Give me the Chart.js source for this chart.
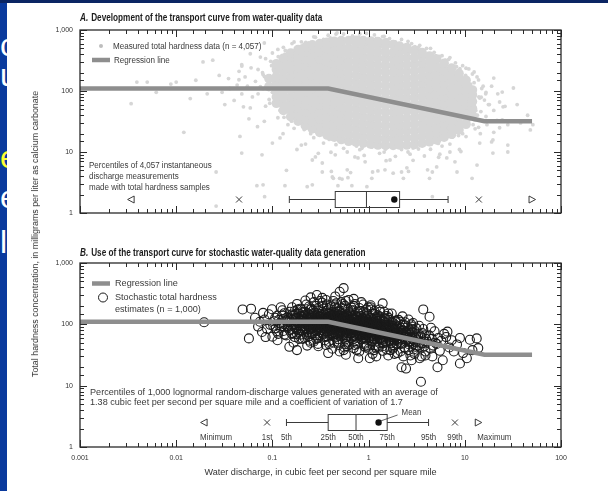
<!DOCTYPE html>
<html lang="en">
<head>
<meta charset="utf-8">
<title>Total hardness transport curve</title>
<script src="https://cdn.jsdelivr.net/npm/chart.js@4.4.1/dist/chart.umd.min.js"></script>
<style>
  html, body { margin: 0; padding: 0; background: #fff; }
  #page { position: relative; width: 608px; height: 491px; overflow: hidden; background: #fff; }
  #slideEdge { position: absolute; left: 0; top: 0; width: 7px; height: 491px; background: #0a3a9d; overflow: hidden; }
  #slideEdge span { position: absolute; left: 0; font: 32px/32px "Liberation Sans", Arial, sans-serif; color: #fff; }
  #slideTop { position: absolute; left: 0; top: 0; width: 608px; height: 3px; background: #0b2563; }
  canvas { position: absolute; left: 0; }
  #chartA { top: 0; }
  #chartB { top: 230px; }
  #yTitle { position: absolute; left: 35px; top: 234px; transform: translate(-50%, -50%) rotate(-90deg);
            white-space: nowrap; font: 8.9px "Liberation Sans", Arial, sans-serif; color: #333; }
</style>
</head>
<body>
<div id="page">
  <canvas id="chartA" width="608" height="230"></canvas>
  <canvas id="chartB" width="608" height="261"></canvas>
  <div id="yTitle">Total hardness concentration, in milligrams per liter as calcium carbonate</div>
  <div id="slideEdge">
    <span style="top:29px">c</span>
    <span style="top:59px">u</span>
    <span style="top:141px;color:#ffff33">e</span>
    <span style="top:181px">e</span>
    <span style="top:226px">l</span>
  </div>
  <div id="slideTop"></div>
</div>
<script>
// ---------------- axis values ----------------
const dischargeDecades = [0.001, 0.01, 0.1, 1, 10, 100];
const dischargeDecadeLabels = ['0.001', '0.01', '0.1', '1', '10', '100'];
const hardnessDecades = [1, 10, 100, 1000];
const hardnessDecadeLabels = ['1', '10', '100', '1,000'];

// ---------------- regression (transport) curve ----------------
const regressionDischarge = [0.001, 0.38, 16, 50];
const regressionHardness = [110, 110, 32, 32];

// ---------------- discharge percentiles ----------------
const percentileNames = ['Minimum', '1st', '5th', '25th', '50th', '75th', '95th', '99th', 'Maximum'];
const measuredPercentiles = [0.0034, 0.045, 0.15, 0.45, 0.95, 2.1, 6.7, 14, 50];
const measuredMean = 1.85;
const measuredBoxHardness = 1.7;      // level of the percentile row in panel A
const stochasticPercentiles = [0.0195, 0.088, 0.14, 0.38, 0.74, 1.56, 4.2, 7.9, 13.8];
const stochasticMean = 1.27;
const stochasticBoxHardness = 2.56;   // level of the percentile row in panel B

// ---------------- measured total hardness (panel A) ----------------
// crowded middle of the cloud: one discharge per column, hardness values in that column
const measuredColumnDischarge = [0.092, 0.11, 0.13, 0.155, 0.185, 0.22, 0.26, 0.31, 0.37, 0.44, 0.52, 0.62,
  0.74, 0.88, 1.05, 1.25, 1.5, 1.8, 2.1, 2.5, 3.0, 3.6, 4.3, 5.1, 6.1, 7.3, 8.7, 10.3, 12];
const measuredColumnHardness = [
  [118, 160],
  [63, 80, 104, 136, 172, 225, 280],
  [48, 60, 78, 100, 128, 165, 212, 270, 345],
  [38, 49, 63, 80, 104, 134, 172, 222, 285, 360, 420],
  [32, 41, 53, 68, 87, 112, 145, 186, 240, 310, 390, 480],
  [27, 35, 45, 58, 74, 95, 122, 158, 203, 262, 338, 430, 525],
  [24, 31, 40, 51, 66, 85, 109, 140, 180, 232, 300, 385, 490, 570],
  [21, 27, 35, 45, 58, 74, 95, 122, 158, 203, 262, 338, 430, 540, 600],
  [19, 24.5, 31, 40, 51, 66, 85, 109, 140, 180, 232, 300, 385, 490, 630],
  [17.5, 22.5, 29, 37, 48, 62, 79, 102, 131, 168, 216, 278, 358, 460, 590, 650],
  [16, 20.5, 26.5, 34, 44, 56, 72, 93, 120, 154, 198, 255, 328, 420, 540, 670],
  [15, 19.5, 25, 32, 41, 53, 68, 87, 112, 145, 186, 240, 310, 400, 510, 670],
  [14.5, 18.5, 24, 31, 40, 51, 66, 85, 109, 140, 180, 232, 300, 385, 490, 620, 680],
  [14, 18, 23, 29.5, 38, 49, 63, 81, 104, 134, 172, 222, 285, 365, 470, 600, 670],
  [13.5, 17.5, 22.5, 29, 37, 48, 62, 79, 102, 131, 168, 216, 278, 358, 460, 590, 660],
  [13, 16.5, 21.5, 27.5, 35.5, 46, 59, 76, 97, 125, 161, 207, 266, 342, 440, 565, 645],
  [12.8, 16.5, 21, 27, 35, 45, 58, 74, 95, 122, 158, 203, 262, 338, 430, 550, 615],
  [12.8, 16.5, 21, 27, 35, 45, 58, 74, 95, 122, 158, 203, 262, 338, 430, 575],
  [13, 16.8, 21.5, 27.5, 35.5, 46, 59, 76, 97, 125, 161, 207, 266, 342, 440, 545],
  [13, 17, 22, 28, 36, 47, 60, 77, 99, 127, 163, 210, 270, 350, 450, 515],
  [13.3, 17, 22, 28.5, 36.5, 47, 61, 78, 100, 129, 166, 214, 275, 355, 465],
  [14, 18, 23, 29.5, 38, 49, 63, 81, 104, 134, 172, 222, 285, 365, 425],
  [14.7, 19, 24.5, 31.5, 40.5, 52, 67, 86, 110, 142, 183, 235, 300, 375],
  [15.8, 20.5, 26, 33.5, 43, 55, 71, 91, 117, 150, 193, 248, 335],
  [17.5, 22.5, 29, 37, 48, 62, 79, 102, 131, 168, 216, 285],
  [19.5, 25, 32, 41, 53, 68, 87, 112, 145, 186, 238],
  [23, 29.5, 38, 49, 63, 81, 104, 134, 172, 195],
  [28.5, 36.5, 47, 60, 77, 99, 127, 150],
  [40, 52, 67, 86, 104]
];
// thinner samples round the edge of the crowded middle: [discharge, hardness]
const measuredFringePoints = [
  [17.6, 60], [16.6, 95], [13.9, 152], [10.3, 236], [7.0, 353], [4.4, 500], [2.57, 653], [1.45, 789],
  [0.81, 863], [0.458, 859], [0.269, 774], [0.168, 636], [0.114, 481], [0.085, 339], [0.071, 225], [0.0667, 144],
  [0.071, 90], [0.085, 56.5], [0.114, 36.4], [0.168, 24.4], [0.269, 17.2], [0.458, 13.2], [0.81, 10.9], [1.45, 9.96],
  [2.57, 10], [4.4, 11.1], [7.0, 13.5], [10.3, 17.9], [13.9, 25.4], [16.6, 38.2],
  [0.0824, 612], [0.0589, 408], [0.0481, 256], [0.0449, 153], [0.0481, 89.6], [0.0589, 52.8], [0.0824, 31.8], [0.129, 20],
  [0.221, 13.5], [0.406, 9.9], [0.776, 8.0], [1.52, 7.2], [2.9, 7.3], [5.35, 8.2], [9.1, 10.2], [14.3, 14],
  [20, 21], [24.5, 33.6], [26.2, 56], [24.5, 96], [20, 163],
  [14.3, 76.5], [10.2, 180], [4.97, 380], [1.86, 629], [0.632, 742], [0.237, 617], [0.115, 366], [0.0826, 173],
  [0.0925, 72.8], [0.158, 32], [0.378, 17], [1.08, 12], [3.1, 12.2], [7.4, 17.5], [12.7, 33.5],
  [0.075, 118], [0.079, 200], [0.1, 95], [0.098, 260], [0.12, 48], [0.135, 400], [0.2, 545], [0.145, 28],
  [0.25, 20], [0.34, 700], [0.55, 11.5], [1.2, 720], [2.2, 11], [3.4, 560], [5.8, 12.5], [6.3, 320],
  [8.2, 250], [9.5, 20], [11.5, 130], [13, 48], [15.5, 120], [12.5, 205],
  [14.8, 79], [12.5, 137], [8.9, 232], [5.5, 368], [3.03, 535], [1.56, 685], [0.79, 765], [0.4, 742],
  [0.222, 624], [0.136, 463], [0.096, 306], [0.08, 186], [0.08, 109], [0.094, 63], [0.132, 37], [0.214, 23.4],
  [0.39, 16.1], [0.75, 12.5], [1.5, 11.2], [2.9, 11.6], [5.3, 13.8], [8.6, 18.6], [12.2, 28], [14.7, 46]
];
// scattered samples well away from the crowded middle: [discharge, hardness]
const measuredOutlyingPoints = [
  [0.0034, 62], [0.0039, 140], [0.005, 140], [0.0062, 95], [0.0088, 130], [0.01, 140], [0.012, 21], [0.014, 75],
  [0.016, 150], [0.019, 300], [0.021, 90], [0.024, 320], [0.026, 4.7], [0.026, 1.3], [0.028, 180], [0.03, 95],
  [0.032, 60], [0.035, 160], [0.036, 110], [0.04, 70], [0.043, 125], [0.045, 210], [0.046, 18], [0.048, 9.6],
  [0.048, 270], [0.05, 55], [0.052, 170], [0.055, 120], [0.057, 35], [0.06, 240], [0.062, 80], [0.07, 26],
  [0.078, 9], [0.08, 2.9], [0.069, 2.8], [0.083, 1.85], [0.14, 5], [0.135, 2.8], [0.1, 14], [0.12, 17],
  [0.075, 360], [0.1, 420], [0.13, 520], [0.16, 600],
  [0.23, 2.7], [0.26, 2.9], [0.26, 7.4], [0.28, 8.3], [0.33, 6.6], [0.33, 4.7], [0.34, 14], [0.42, 3.9],
  [0.41, 4.8], [0.43, 3.7], [0.48, 2.8], [0.5, 3.7], [0.53, 3.6], [0.6, 5.1], [0.61, 3.8], [0.65, 4.6],
  [0.67, 2.8], [0.72, 8.3], [0.92, 6.9], [0.96, 2.7], [1.08, 3.7], [1.1, 4.7], [1.25, 4.9], [1.48, 5.1],
  [1.67, 7.4], [1.8, 4.5], [2.2, 4.7], [2.3, 3.7], [2.5, 5.5], [2.6, 4.8], [4.1, 5.1], [4.3, 3.7],
  [4.6, 4.7], [4.6, 1.85], [5.1, 5.7], [6.5, 8], [7.9, 6.9], [8.3, 4.7], [11.9, 3.7], [13.4, 6.1],
  [0.18, 11], [0.3, 9.5], [0.45, 9], [0.6, 10], [0.9, 8.8], [1.3, 9.5], [1.9, 8.5], [2.7, 9.2],
  [3.8, 8.6], [5.5, 9.2], [7, 10], [8.8, 11], [0.2, 13], [0.85, 11.5], [3.3, 11.2],
  [0.2, 640], [0.28, 760], [0.38, 820], [0.55, 860], [0.68, 800], [0.95, 880], [1.15, 830], [1.4, 780],
  [1.65, 720], [2.2, 700], [2.8, 600], [3.3, 520], [4, 500], [4.8, 430], [5.8, 380], [6.8, 330],
  [8, 290], [0.47, 900], [1.9, 640], [2.4, 560],
  [9.5, 260], [11, 230], [12, 190], [13.4, 170], [12.5, 95], [11.5, 120], [14, 80], [10.8, 65],
  [12, 52], [13.5, 40], [11, 33], [12.8, 24], [14.5, 20], [10.5, 45], [15, 110], [16, 71],
  [16.5, 90], [17, 28], [18, 60], [19, 120], [19, 14.6], [19.6, 9.6], [19.6, 15.8], [20, 48],
  [21.6, 33], [22, 90], [23, 66], [23, 25], [25, 55], [28, 28], [28, 13], [28, 10],
  [32, 112], [35, 60], [38, 30], [45, 40], [48, 23], [51, 28]
];

// ---------------- stochastic total hardness estimates (panel B): [discharge, hardness] ----------------
const stochasticPoints = [
  [0.0195, 108], [0.049, 175], [0.06, 180], [0.057, 59], [0.074, 110],
  [0.071, 92], [0.08, 154], [0.066, 128], [0.078, 75],
  [0.083, 120], [0.088, 84], [0.092, 146], [0.095, 98], [0.085, 62], [0.099, 176],
  [0.1, 63], [0.104, 112], [0.108, 86], [0.112, 138], [0.115, 70], [0.119, 104], [0.122, 190], [0.125, 93],
  [0.128, 121], [0.13, 78], [0.133, 152], [0.136, 99], [0.139, 66], [0.142, 130], [0.145, 88], [0.148, 109],
  [0.15, 43], [0.152, 160], [0.155, 95], [0.157, 72],
  [0.16, 118], [0.162, 84], [0.165, 140], [0.168, 101], [0.171, 62], [0.174, 127], [0.177, 90], [0.18, 38],
  [0.182, 174], [0.185, 106], [0.188, 75], [0.19, 148], [0.193, 97], [0.195, 115], [0.197, 68], [0.199, 136],
  [0.202, 104], [0.205, 79], [0.208, 158], [0.21, 92], [0.213, 122], [0.216, 60], [0.219, 112], [0.222, 86],
  [0.225, 210], [0.228, 99], [0.231, 131], [0.234, 73], [0.236, 117], [0.239, 95], [0.241, 145], [0.243, 54],
  [0.245, 108], [0.247, 83], [0.249, 126], [0.212, 140], [0.233, 101],
  [0.252, 96], [0.255, 128], [0.258, 69], [0.261, 113], [0.264, 88], [0.267, 170], [0.27, 104], [0.273, 77],
  [0.276, 139], [0.279, 93], [0.282, 119], [0.285, 58], [0.288, 107], [0.291, 84], [0.294, 152], [0.297, 99],
  [0.3, 125], [0.303, 71], [0.306, 115], [0.309, 89], [0.312, 240], [0.314, 102], [0.26, 145], [0.29, 132],
  [0.31, 65], [0.29, 300], [0.33, 270],
  [0.318, 100], [0.321, 133], [0.324, 80], [0.327, 117], [0.33, 92], [0.333, 160], [0.336, 106], [0.339, 70],
  [0.342, 126], [0.345, 97], [0.348, 143], [0.351, 85], [0.354, 112], [0.357, 62], [0.36, 120], [0.363, 94],
  [0.366, 185], [0.369, 103], [0.372, 76], [0.375, 130], [0.378, 89], [0.381, 109], [0.384, 52], [0.387, 122],
  [0.39, 96], [0.393, 148], [0.396, 82], [0.399, 114], [0.38, 34],
  [0.402, 104], [0.405, 136], [0.408, 78], [0.411, 118], [0.414, 91], [0.417, 158], [0.42, 99], [0.423, 67],
  [0.426, 125], [0.429, 87], [0.432, 112], [0.435, 142], [0.438, 74], [0.441, 106], [0.444, 95], [0.447, 190],
  [0.45, 83], [0.453, 120], [0.456, 61], [0.459, 102], [0.462, 131], [0.465, 88], [0.468, 110], [0.471, 70],
  [0.474, 146], [0.477, 93], [0.48, 115], [0.483, 57], [0.486, 100], [0.489, 128], [0.492, 81], [0.495, 108],
  [0.498, 168], [0.5, 340], [0.55, 390], [0.5, 36],
  [0.502, 97], [0.506, 124], [0.51, 76], [0.514, 109], [0.518, 88], [0.522, 150], [0.526, 95], [0.53, 64],
  [0.534, 117], [0.538, 84], [0.542, 104], [0.546, 135], [0.55, 71], [0.554, 99], [0.558, 180], [0.562, 90],
  [0.566, 113], [0.57, 56], [0.574, 97], [0.578, 126], [0.582, 82], [0.586, 106], [0.59, 67], [0.594, 140],
  [0.598, 89], [0.602, 110], [0.606, 52], [0.61, 96], [0.614, 120], [0.618, 77], [0.622, 101], [0.626, 158],
  [0.54, 215], [0.6, 44], [0.58, 240],
  [0.632, 92], [0.637, 118], [0.642, 72], [0.647, 104], [0.652, 84], [0.657, 143], [0.662, 90], [0.667, 60],
  [0.672, 111], [0.677, 80], [0.682, 99], [0.687, 128], [0.692, 67], [0.697, 94], [0.702, 170], [0.707, 86],
  [0.712, 107], [0.717, 53], [0.722, 92], [0.727, 120], [0.732, 77], [0.737, 100], [0.742, 63], [0.747, 133],
  [0.752, 84], [0.757, 104], [0.762, 48], [0.767, 90], [0.772, 114], [0.777, 73], [0.782, 95], [0.787, 150],
  [0.78, 28], [0.7, 200], [0.75, 38],
  [0.802, 88], [0.808, 112], [0.814, 68], [0.82, 99], [0.826, 79], [0.832, 136], [0.838, 85], [0.844, 57],
  [0.85, 104], [0.856, 75], [0.862, 93], [0.868, 121], [0.874, 63], [0.88, 88], [0.886, 160], [0.892, 81],
  [0.898, 100], [0.904, 50], [0.91, 86], [0.916, 112], [0.922, 72], [0.928, 93], [0.934, 59], [0.94, 124],
  [0.946, 78], [0.952, 97], [0.958, 45], [0.964, 84], [0.97, 106], [0.976, 68], [0.982, 88], [0.988, 140],
  [0.99, 190], [0.84, 230], [0.93, 42],
  [1.01, 82], [1.02, 104], [1.03, 63], [1.04, 92], [1.05, 73], [1.06, 126], [1.07, 79], [1.08, 53],
  [1.09, 96], [1.1, 70], [1.11, 86], [1.12, 112], [1.13, 58], [1.14, 81], [1.15, 148], [1.16, 75],
  [1.17, 93], [1.18, 46], [1.19, 79], [1.2, 103], [1.21, 66], [1.22, 86], [1.23, 54], [1.24, 114],
  [1.25, 72], [1.03, 28], [1.08, 175], [1.14, 38], [1.2, 130], [1.05, 205], [1.18, 89], [1.11, 60], [1.23, 95],
  [1.27, 77], [1.29, 97], [1.31, 58], [1.33, 86], [1.35, 68], [1.37, 117], [1.39, 73], [1.41, 49],
  [1.43, 89], [1.45, 64], [1.47, 80], [1.49, 104], [1.51, 53], [1.53, 75], [1.55, 137], [1.57, 70],
  [1.28, 42], [1.32, 160], [1.36, 92], [1.4, 220], [1.42, 61], [1.46, 110], [1.5, 84], [1.54, 39],
  [1.3, 70], [1.38, 55], [1.44, 125], [1.52, 95], [1.56, 60], [1.34, 80], [1.48, 72],
  [1.6, 72], [1.63, 90], [1.66, 54], [1.69, 80], [1.72, 63], [1.75, 108], [1.78, 67], [1.81, 45],
  [1.84, 82], [1.87, 59], [1.9, 74], [1.93, 96], [1.96, 49], [1.99, 69], [1.62, 127], [1.68, 38],
  [1.74, 150], [1.8, 88], [1.86, 33], [1.92, 115], [1.98, 57], [1.65, 66], [1.77, 94], [1.83, 72],
  [1.95, 62], [1.71, 49], [1.89, 85],
  [2.02, 66], [2.07, 83], [2.12, 50], [2.17, 74], [2.22, 58], [2.27, 99], [2.32, 62], [2.37, 42],
  [2.42, 76], [2.47, 55], [2.05, 118], [2.15, 36], [2.2, 20], [2.25, 135], [2.3, 70], [2.35, 88],
  [2.45, 19], [2.1, 60], [2.4, 108], [2.18, 48], [2.28, 79], [2.44, 64],
  [2.52, 61], [2.58, 77], [2.64, 47], [2.7, 69], [2.76, 53], [2.82, 92], [2.88, 57], [2.94, 39],
  [3.0, 71], [3.06, 51], [3.12, 64], [2.6, 120], [2.72, 31], [2.8, 84], [2.9, 105], [3.1, 43],
  [2.66, 58], [2.98, 80],
  [3.2, 56], [3.3, 71], [3.4, 43], [3.5, 64], [3.6, 49], [3.7, 84], [3.8, 53], [3.9, 36],
  [3.35, 95], [3.55, 30], [3.7, 175], [3.5, 11.6], [3.25, 45], [3.85, 66],
  [4.1, 52], [4.25, 66], [4.4, 40], [4.55, 58], [4.7, 45], [4.85, 77], [4.3, 133], [4.6, 30],
  [4.95, 50], [4.45, 88],
  [5.1, 48], [5.3, 60], [5.5, 37], [5.7, 54], [5.9, 26], [5.2, 20], [6.1, 70],
  [6.6, 76], [6.9, 42], [7.3, 55], [7.7, 36], [6.4, 62],
  [8.9, 60], [8.9, 23], [9.6, 34], [8.3, 47],
  [10.5, 28], [11.3, 56], [13.3, 59], [13.8, 41], [12, 38],
  // second pass through the crowded middle of the cloud
  [0.102, 95], [0.107, 128], [0.111, 77], [0.117, 118], [0.121, 88], [0.126, 140], [0.131, 101], [0.134, 68],
  [0.138, 115], [0.143, 92], [0.147, 125], [0.151, 80], [0.156, 108], [0.159, 145], [0.113, 55], [0.127, 170],
  [0.161, 100], [0.164, 72], [0.167, 125], [0.17, 90], [0.173, 112], [0.176, 148], [0.179, 83], [0.183, 104],
  [0.186, 130], [0.189, 58], [0.192, 95], [0.196, 120], [0.198, 86], [0.17, 165], [0.18, 70], [0.19, 108],
  [0.166, 50], [0.194, 180],
  [0.201, 118], [0.204, 92], [0.207, 132], [0.211, 76], [0.214, 103], [0.217, 140], [0.22, 88], [0.223, 115],
  [0.226, 68], [0.229, 125], [0.232, 94], [0.235, 150], [0.238, 82], [0.24, 110], [0.242, 64], [0.244, 130],
  [0.246, 98], [0.248, 175], [0.206, 58], [0.218, 160], [0.23, 45], [0.237, 123], [0.244, 88],
  [0.251, 110], [0.254, 84], [0.257, 136], [0.26, 97], [0.263, 72], [0.266, 120], [0.269, 90], [0.272, 155],
  [0.275, 105], [0.278, 66], [0.281, 128], [0.284, 95], [0.287, 116], [0.29, 78], [0.293, 140], [0.296, 102],
  [0.299, 60], [0.302, 118], [0.305, 88], [0.308, 135], [0.311, 97], [0.313, 75], [0.256, 180], [0.268, 52],
  [0.283, 200], [0.298, 48], [0.304, 165],
  [0.319, 112], [0.322, 86], [0.325, 140], [0.328, 98], [0.331, 70], [0.334, 124], [0.337, 92], [0.34, 150],
  [0.343, 106], [0.346, 76], [0.349, 130], [0.352, 96], [0.355, 118], [0.358, 82], [0.361, 140], [0.364, 104],
  [0.367, 64], [0.37, 122], [0.373, 95], [0.376, 170], [0.379, 100], [0.382, 78], [0.385, 134], [0.388, 90],
  [0.391, 112], [0.394, 68], [0.397, 126], [0.335, 200], [0.35, 55], [0.368, 210], [0.389, 48],
  [0.403, 95], [0.406, 120], [0.409, 84], [0.412, 140], [0.415, 102], [0.418, 72], [0.421, 128], [0.424, 93],
  [0.427, 110], [0.43, 64], [0.433, 132], [0.436, 98], [0.439, 80], [0.442, 150], [0.445, 105], [0.448, 88],
  [0.451, 118], [0.454, 70], [0.457, 138], [0.46, 96], [0.463, 112], [0.466, 76], [0.469, 125], [0.472, 92],
  [0.475, 160], [0.478, 85], [0.481, 104], [0.484, 66], [0.487, 120], [0.49, 96], [0.493, 140], [0.496, 74],
  [0.41, 195], [0.44, 50], [0.46, 220], [0.49, 46],
  [0.504, 90], [0.508, 116], [0.512, 70], [0.516, 132], [0.52, 96], [0.524, 78], [0.528, 120], [0.532, 88],
  [0.536, 145], [0.54, 100], [0.544, 66], [0.548, 118], [0.552, 92], [0.556, 130], [0.56, 80], [0.564, 104],
  [0.568, 140], [0.572, 74], [0.576, 110], [0.58, 90], [0.584, 125], [0.588, 62], [0.592, 100], [0.596, 116],
  [0.6, 84], [0.604, 135], [0.608, 95], [0.612, 72], [0.616, 108], [0.62, 88], [0.624, 122], [0.628, 98],
  [0.53, 185], [0.57, 48], [0.61, 175], [0.56, 42],
  [0.635, 100], [0.64, 80], [0.645, 122], [0.65, 92], [0.655, 70], [0.66, 112], [0.665, 85], [0.67, 135],
  [0.675, 96], [0.68, 74], [0.685, 108], [0.69, 88], [0.695, 126], [0.7, 64], [0.705, 100], [0.71, 80],
  [0.715, 118], [0.72, 94], [0.725, 140], [0.73, 70], [0.735, 106], [0.74, 86], [0.745, 120], [0.75, 60],
  [0.755, 98], [0.76, 130], [0.765, 78], [0.77, 104], [0.775, 88], [0.78, 115], [0.785, 68], [0.79, 96],
  [0.66, 170], [0.72, 46], [0.77, 160],
  [0.805, 78], [0.811, 100], [0.817, 64], [0.823, 118], [0.829, 88], [0.835, 72], [0.841, 108], [0.847, 92],
  [0.853, 128], [0.859, 68], [0.865, 98], [0.871, 82], [0.877, 112], [0.883, 60], [0.889, 94], [0.895, 120],
  [0.901, 76], [0.907, 102], [0.913, 86], [0.919, 134], [0.925, 66], [0.931, 96], [0.937, 80], [0.943, 108],
  [0.949, 56], [0.955, 90], [0.961, 116], [0.967, 74], [0.973, 98], [0.979, 84], [0.985, 110], [0.82, 165],
  [0.9, 44], [0.96, 150],
  [1.015, 74], [1.025, 94], [1.035, 60], [1.045, 110], [1.055, 82], [1.065, 66], [1.075, 100], [1.085, 86],
  [1.095, 120], [1.105, 64], [1.115, 92], [1.125, 76], [1.135, 104], [1.145, 56], [1.155, 88], [1.165, 112],
  [1.175, 70], [1.185, 96], [1.195, 80], [1.205, 124], [1.215, 62], [1.225, 90], [1.235, 74], [1.245, 100],
  [1.1, 150], [1.19, 42], [1.24, 140],
  [1.265, 86], [1.285, 66], [1.305, 102], [1.325, 76], [1.345, 60], [1.365, 94], [1.385, 80], [1.405, 112],
  [1.425, 58], [1.445, 86], [1.465, 70], [1.485, 98], [1.505, 52], [1.525, 82], [1.545, 104], [1.565, 64],
  [1.3, 135], [1.4, 44], [1.5, 125], [1.56, 88],
  [1.61, 80], [1.64, 62], [1.67, 96], [1.7, 72], [1.73, 56], [1.76, 88], [1.79, 74], [1.82, 104],
  [1.85, 54], [1.88, 80], [1.91, 64], [1.94, 90], [1.97, 48], [1.63, 118], [1.79, 40], [1.9, 110],
  [2.04, 74], [2.09, 56], [2.14, 88], [2.19, 66], [2.24, 50], [2.29, 80], [2.34, 68], [2.39, 96],
  [2.44, 52], [2.49, 72], [2.13, 110], [2.36, 42],
  [2.55, 68], [2.62, 52], [2.68, 82], [2.74, 62], [2.86, 74], [2.92, 48], [3.04, 60], [3.14, 86], [2.78, 100],
  [3.28, 62], [3.45, 50], [3.62, 72], [3.78, 44], [3.95, 58],
  // upper and lower margins of the cloud
  [0.16, 190], [0.18, 215], [0.2, 175], [0.22, 245], [0.24, 195], [0.27, 230], [0.3, 185], [0.33, 225],
  [0.36, 250], [0.4, 205], [0.43, 240], [0.47, 185], [0.52, 230], [0.57, 200], [0.62, 250], [0.66, 190],
  [0.72, 215], [0.8, 185], [0.88, 210], [0.95, 175], [1.05, 190], [1.15, 165], [1.3, 175], [1.45, 160],
  [1.6, 150], [0.25, 275], [0.45, 285], [0.7, 260], [0.36, 165], [0.5, 160],
  [0.25, 50], [0.3, 44], [0.36, 46], [0.42, 40], [0.48, 52], [0.55, 38], [0.62, 47], [0.7, 41],
  [0.8, 36], [0.9, 48], [1.0, 40], [1.1, 33], [1.25, 44], [1.4, 37], [1.6, 31], [1.8, 42],
  [2.0, 34], [2.3, 30], [2.6, 38], [3.0, 33], [3.4, 28], [3.9, 31], [0.58, 32], [1.2, 30], [2.8, 26]
];

// ---------------- drawing helpers ----------------
const SANS = '"Liberation Sans", Arial, sans-serif';
const INK = '#333333';
const DOT_GREY = '#d6d6d6';
const LINE_GREY = '#8e8e8e';

function write(ctx, s, x, y, o) {
  ctx.save();
  ctx.font = `${o.style || 'normal'} ${o.weight || 'normal'} ${o.size}px ${SANS}`;
  ctx.fillStyle = o.color || INK;
  ctx.textBaseline = 'middle';
  ctx.textAlign = o.align || 'left';
  ctx.translate(x, y);
  ctx.scale(o.squeeze || 1, 1);
  ctx.fillText(s, 0, 0);
  const w = ctx.measureText(s).width * (o.squeeze || 1);
  ctx.restore();
  return w;
}

function heading(ctx, letter, text, x, y) {
  const o = { size: 10, weight: 'bold', squeeze: 0.82, color: '#1c1c1c' };
  const w = write(ctx, letter, x, y, Object.assign({}, o, { style: 'italic' }));
  write(ctx, text, x + w + 3, y, o);
}

function isDecade(v) {
  const e = Math.log10(v);
  return Math.abs(e - Math.round(e)) < 1e-6;
}

function decadeLabel(v, decades, labels) {
  const i = decades.findIndex(d => Math.abs(Math.log10(d) - Math.log10(v)) < 1e-6);
  return i >= 0 ? labels[i] : '';
}

// frame of the plotting area with inward tick marks on all four sides
const frameTicks = {
  id: 'frameTicks',
  afterDatasetsDraw(chart) {
    const { ctx, chartArea: a, scales: { x, y } } = chart;
    ctx.save();
    ctx.strokeStyle = '#2a2a2a';
    ctx.lineWidth = 1;
    ctx.beginPath();
    for (const t of x.ticks) {
      const p = Math.round(x.getPixelForValue(t.value)) + 0.5;
      const len = isDecade(t.value) ? 7 : 4;
      ctx.moveTo(p, a.bottom); ctx.lineTo(p, a.bottom - len);
      ctx.moveTo(p, a.top); ctx.lineTo(p, a.top + len);
    }
    for (const t of y.ticks) {
      const p = Math.round(y.getPixelForValue(t.value)) + 0.5;
      const len = isDecade(t.value) ? 7 : 4;
      ctx.moveTo(a.left, p); ctx.lineTo(a.left + len, p);
      ctx.moveTo(a.right, p); ctx.lineTo(a.right - len, p);
    }
    ctx.stroke();
    ctx.lineWidth = 1.3;
    ctx.strokeRect(a.left, a.top, a.right - a.left, a.bottom - a.top);
    ctx.restore();
  }
};

function seg(ctx, x1, y1, x2, y2) {
  ctx.beginPath(); ctx.moveTo(x1, y1); ctx.lineTo(x2, y2); ctx.stroke();
}

// box-and-whisker summary of discharge percentiles, drawn on the chart's own scales
function percentileRow(chart, pct, mean, level) {
  const { ctx, scales: { x, y } } = chart;
  const py = Math.round(y.getPixelForValue(level)) + 0.5;
  const [pMin, p1, p5, p25, p50, p75, p95, p99, pMax] = pct.map(v => x.getPixelForValue(v));
  const half = 8, cap = 3.5, m = 3;
  ctx.save();
  ctx.strokeStyle = '#3a3a3a';
  ctx.lineWidth = 1;
  seg(ctx, p5, py, p25, py);
  seg(ctx, p75, py, p95, py);
  seg(ctx, p5, py - cap, p5, py + cap);
  seg(ctx, p95, py - cap, p95, py + cap);
  ctx.strokeRect(p25, py - half, p75 - p25, 2 * half);
  seg(ctx, p50, py - half, p50, py + half);
  for (const p of [p1, p99]) {
    seg(ctx, p - m, py - m, p + m, py + m);
    seg(ctx, p - m, py + m, p + m, py - m);
  }
  ctx.beginPath();
  ctx.moveTo(pMin - 3.5, py); ctx.lineTo(pMin + 3, py - 3.5); ctx.lineTo(pMin + 3, py + 3.5); ctx.closePath();
  ctx.stroke();
  ctx.beginPath();
  ctx.moveTo(pMax + 3.5, py); ctx.lineTo(pMax - 3, py - 3.5); ctx.lineTo(pMax - 3, py + 3.5); ctx.closePath();
  ctx.stroke();
  ctx.beginPath();
  ctx.arc(x.getPixelForValue(mean), py, 3.2, 0, Math.PI * 2);
  ctx.fillStyle = '#111';
  ctx.fill();
  ctx.restore();
  return { py, px: [pMin, p1, p5, p25, p50, p75, p95, p99, pMax] };
}

const panelAText = {
  id: 'panelAText',
  afterDraw(chart) {
    const { ctx, chartArea: a } = chart;
    heading(ctx, 'A.', 'Development of the transport curve from water-quality data', a.left, a.top - 12);
    const lg = { size: 9.2, squeeze: 0.88, color: '#3a3a3a' };
    ctx.save();
    ctx.fillStyle = '#bdbdbd';
    ctx.beginPath(); ctx.arc(a.left + 21, a.top + 16, 2, 0, Math.PI * 2); ctx.fill();
    ctx.strokeStyle = LINE_GREY; ctx.lineWidth = 4.5;
    seg(ctx, a.left + 12, a.top + 30, a.left + 30, a.top + 30);
    ctx.restore();
    write(ctx, 'Measured total hardness data (n = 4,057)', a.left + 33, a.top + 16, lg);
    write(ctx, 'Regression line', a.left + 34, a.top + 30, lg);
    const nt = { size: 9.2, squeeze: 0.87, color: '#3a3a3a' };
    write(ctx, 'Percentiles of 4,057 instantaneous', a.left + 9, a.top + 135, nt);
    write(ctx, 'discharge measurements', a.left + 9, a.top + 146, nt);
    write(ctx, 'made with total hardness samples', a.left + 9, a.top + 157, nt);
    percentileRow(chart, measuredPercentiles, measuredMean, measuredBoxHardness);
  }
};

const panelBText = {
  id: 'panelBText',
  afterDraw(chart) {
    const { ctx, chartArea: a, scales: { x } } = chart;
    heading(ctx, 'B.', 'Use of the transport curve for stochastic water-quality data generation', a.left, a.top - 10);
    const lg = { size: 9.3, squeeze: 0.98, color: '#3a3a3a' };
    ctx.save();
    ctx.strokeStyle = LINE_GREY; ctx.lineWidth = 4.5;
    seg(ctx, a.left + 12, a.top + 20.5, a.left + 30, a.top + 20.5);
    ctx.strokeStyle = '#1a1a1a'; ctx.lineWidth = 1;
    ctx.beginPath(); ctx.arc(a.left + 23, a.top + 34.5, 4.5, 0, Math.PI * 2); ctx.stroke();
    ctx.restore();
    write(ctx, 'Regression line', a.left + 35, a.top + 20.5, lg);
    write(ctx, 'Stochastic total hardness', a.left + 35, a.top + 34.5, lg);
    write(ctx, 'estimates (n = 1,000)', a.left + 35, a.top + 46, lg);
    const nt = { size: 9.2, squeeze: 0.99, color: '#3a3a3a' };
    write(ctx, 'Percentiles of 1,000 lognormal random-discharge values generated with an average of', a.left + 10, a.top + 129.5, nt);
    write(ctx, '1.38 cubic feet per second per square mile and a coefficient of variation of 1.7', a.left + 10, a.top + 139.5, nt);
    const row = percentileRow(chart, stochasticPercentiles, stochasticMean, stochasticBoxHardness);
    const bl = { size: 8.3, squeeze: 0.95, color: '#3a3a3a' };
    percentileNames.forEach((name, i) => {
      const p = row.px[i];
      if (i === 0) write(ctx, name, p - 4, row.py + 15, bl);
      else if (i === percentileNames.length - 1) write(ctx, name, p - 1, row.py + 15, bl);
      else write(ctx, name, p, row.py + 15, Object.assign({ align: 'center' }, bl));
    });
    const mx = x.getPixelForValue(stochasticMean);
    ctx.save();
    ctx.strokeStyle = '#3a3a3a'; ctx.lineWidth = 0.8;
    seg(ctx, mx + 2, row.py - 1.5, mx + 19, row.py - 7.5);
    ctx.restore();
    write(ctx, 'Mean', mx + 23, row.py - 10, bl);
  }
};

const TICK_FONT = { family: '"Liberation Sans Narrow", "Liberation Sans", Arial, sans-serif', size: 7 };

function scalesFor(showXLabels) {
  return {
    x: {
      type: 'logarithmic', min: 0.001, max: 100,
      grid: { display: false, drawTicks: false }, border: { display: false },
      ticks: {
        display: showXLabels, autoSkip: false, maxRotation: 0, minRotation: 0, padding: 6.5,
        color: INK, font: TICK_FONT,
        callback: v => decadeLabel(v, dischargeDecades, dischargeDecadeLabels)
      },
      title: {
        display: showXLabels, text: 'Water discharge, in cubic feet per second per square mile',
        color: INK, font: { family: SANS, size: 9.1 }, padding: { top: 0, bottom: 9 }
      },
      afterFit: s => { s.height = showXLabels ? 40 : 0; s.paddingLeft = 0; s.paddingRight = 0; }
    },
    y: {
      type: 'logarithmic', min: 1, max: 1000,
      grid: { display: false, drawTicks: false }, border: { display: false },
      ticks: {
        autoSkip: false, padding: 7, color: INK, font: TICK_FONT,
        callback: v => decadeLabel(v, hardnessDecades, hardnessDecadeLabels)
      },
      afterFit: s => { s.width = 30; s.paddingTop = 0; s.paddingBottom = 0; }
    }
  };
}

function baseOptions(padding, showXLabels) {
  return {
    responsive: false, animation: false, events: [],
    layout: { padding },
    plugins: { legend: { display: false }, tooltip: { enabled: false }, title: { display: false } },
    scales: scalesFor(showXLabels)
  };
}

const toXY = pairs => pairs.map(([q, h]) => ({ x: q, y: h }));
const regressionData = regressionDischarge.map((q, i) => ({ x: q, y: regressionHardness[i] }));
const regressionSet = () => ({
  label: 'Regression line', data: regressionData, showLine: true, borderColor: LINE_GREY,
  borderWidth: 4.5, pointRadius: 0, tension: 0, clip: 0
});

new Chart(document.getElementById('chartA'), {
  type: 'scatter',
  data: {
    datasets: [
      regressionSet(),
      {
        label: 'Measured total hardness data (n = 4,057)',
        data: measuredColumnDischarge.flatMap((q, i) => measuredColumnHardness[i].map(h => ({ x: q, y: h }))),
        pointRadius: 4.8, pointBackgroundColor: DOT_GREY, pointBorderWidth: 0, clip: 0
      },
      {
        label: 'Measured total hardness data, edge of cloud',
        data: toXY(measuredFringePoints.concat(measuredOutlyingPoints)),
        pointRadius: 1.9, pointBackgroundColor: DOT_GREY, pointBorderWidth: 0, clip: 0
      }
    ]
  },
  options: baseOptions({ left: 50, right: 47, top: 30, bottom: 17 }, false),
  plugins: [frameTicks, panelAText]
});

new Chart(document.getElementById('chartB'), {
  type: 'scatter',
  data: {
    datasets: [
      regressionSet(),
      {
        label: 'Stochastic total hardness estimates (n = 1,000)',
        data: toXY(stochasticPoints),
        pointRadius: 4.5, pointBackgroundColor: 'rgba(0,0,0,0)', pointBorderColor: '#1a1a1a',
        pointBorderWidth: 1.1, clip: 0
      }
    ]
  },
  options: baseOptions({ left: 50, right: 47, top: 33, bottom: 4 }, true),
  plugins: [frameTicks, panelBText]
});
</script>
</body>
</html>
